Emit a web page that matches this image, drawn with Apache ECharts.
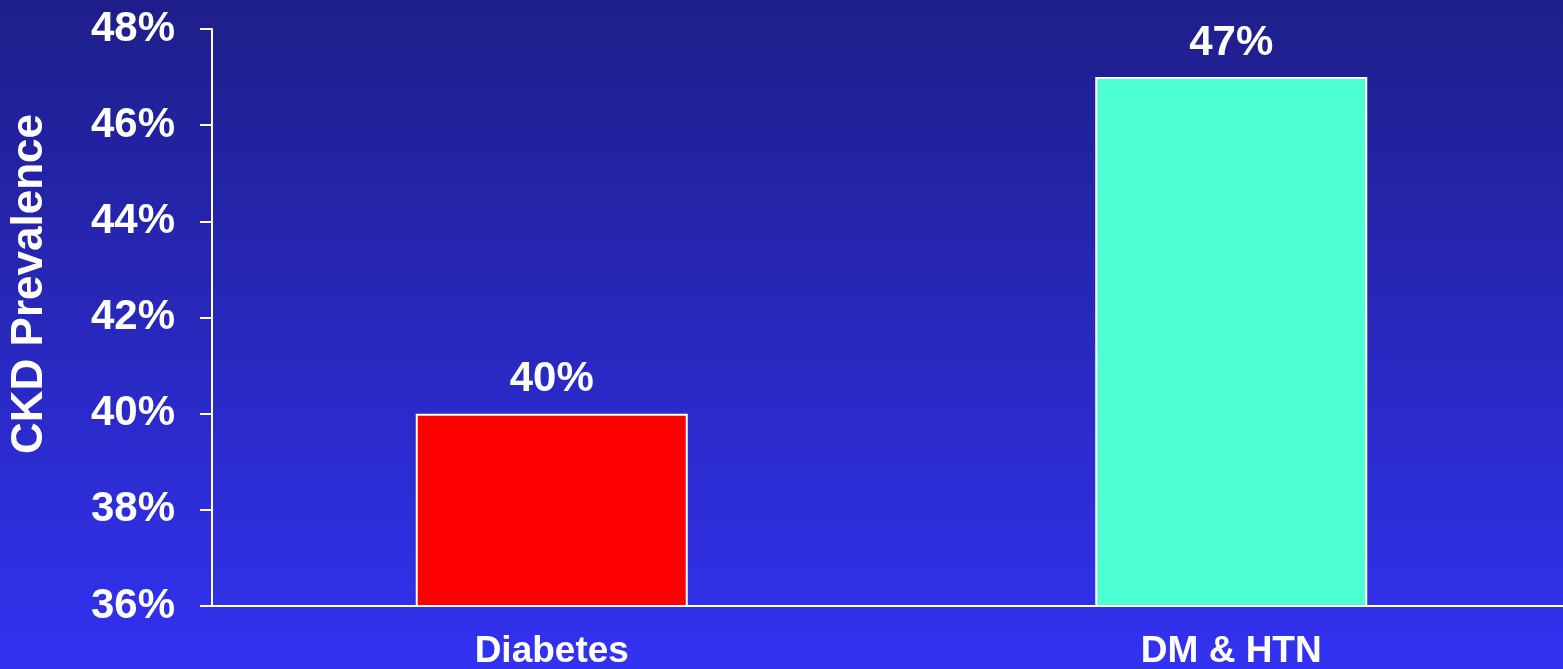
<!DOCTYPE html>
<html>
<head>
<meta charset="utf-8">
<style>
  html, body { margin: 0; padding: 0; width: 1563px; height: 669px; overflow: hidden; }
  #chart { width: 1563px; height: 669px; }
</style>
<script src="https://cdn.jsdelivr.net/npm/echarts@6/dist/echarts.min.js"></script>
</head>
<body>
<div id="chart"></div>
<script>
// CKD prevalence by patient group
const categories = ['Diabetes', 'DM & HTN'];
const prevalence = [40, 47];
const barColors = ['#ff0000', '#4dffd2'];
const yMin = 36, yMax = 48, yStep = 2;
const yTitle = 'CKD Prevalence';

const FONT = 'Liberation Sans, Arial, sans-serif';
const chart = echarts.init(document.getElementById('chart'));

chart.setOption({
  backgroundColor: new echarts.graphic.LinearGradient(0, 0, 0, 1, [
    { offset: 0, color: '#1e1e8a' },
    { offset: 1, color: '#3232f2' }
  ]),
  animation: false,
  // plot area runs a little past the right edge of the canvas
  grid: {
    left: 212, top: 29, width: 1359, height: 577,
    containLabel: false, outerBoundsMode: 'none'
  },
  graphic: [{
    type: 'text',
    x: 30, y: 284,
    rotation: Math.PI / 2,
    style: {
      text: yTitle,
      fill: '#ffffff',
      font: 'bold 44px ' + FONT,
      align: 'center',
      verticalAlign: 'middle'
    }
  }],
  xAxis: {
    type: 'category',
    data: categories,
    axisLine: { lineStyle: { color: '#ffffff', width: 2 } },
    axisTick: { show: false },
    axisLabel: {
      color: '#ffffff', fontFamily: FONT, fontWeight: 'bold', fontSize: 37,
      margin: 27
    }
  },
  yAxis: {
    type: 'value',
    min: yMin, max: yMax, interval: yStep,
    axisLine: { show: true, lineStyle: { color: '#ffffff', width: 2 } },
    axisTick: { show: true, length: 12, inside: false, lineStyle: { color: '#ffffff', width: 2 } },
    splitLine: { show: false },
    axisLabel: {
      color: '#ffffff', fontFamily: FONT, fontWeight: 'bold', fontSize: 42,
      margin: 37,
      formatter: v => v + '%'
    }
  },
  series: [{
    type: 'bar',
    barWidth: 272,
    data: prevalence.map((v, i) => ({
      value: v,
      itemStyle: { color: barColors[i], borderColor: '#ffffff', borderWidth: 2 }
    })),
    label: {
      show: true, position: 'top', distance: 13,
      color: '#ffffff', fontFamily: FONT, fontWeight: 'bold', fontSize: 42,
      formatter: p => p.value + '%'
    }
  }]
});
</script>
</body>
</html>
